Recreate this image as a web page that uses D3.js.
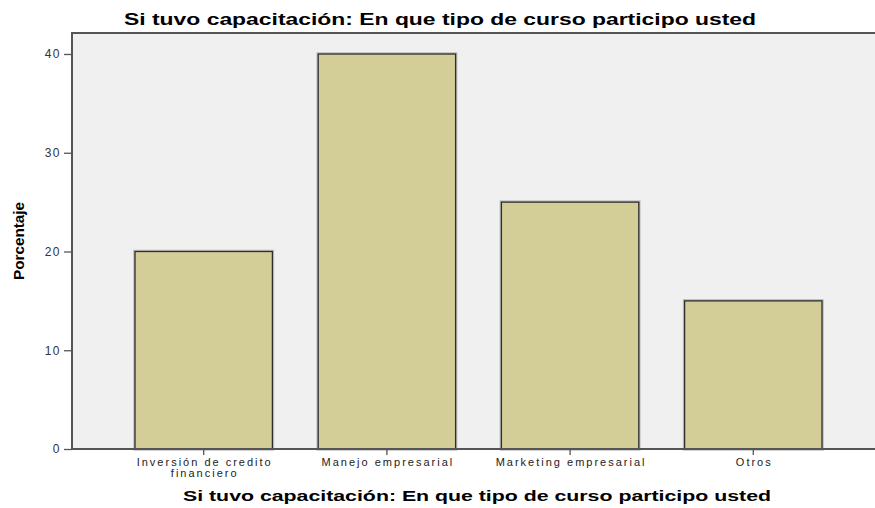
<!DOCTYPE html>
<html>
<head>
<meta charset="utf-8">
<script src="https://cdn.jsdelivr.net/npm/d3@7"></script>
<style>
  body { margin: 0; background: #fff; }
  svg { display: block; font-family: "Liberation Sans", Arial, sans-serif; }
</style>
</head>
<body>
<div id="chart"></div>
<script>
var categories = ["Inversión de credito\nfinanciero", "Manejo empresarial", "Marketing empresarial", "Otros"]
var values = [20, 40, 25, 15]
var yTicks = [0, 10, 20, 30, 40]
var titleText = "Si tuvo capacitación: En que tipo de curso participo usted"
var yLabel = "Porcentaje"

var width = 875, height = 508
var plot = { left: 72, top: 33, right: 875, bottom: 449 }

var svg = d3.select("#chart").append("svg")
    .attr("width", width)
    .attr("height", height)

var x = d3.scaleBand()
    .domain(categories)
    .range([135, 822])
    .paddingInner(0.25)
    .paddingOuter(0)

var y = d3.scaleLinear()
    .domain([0, 40])
    .range([449, 54])

// plot background
svg.append("rect")
    .attr("x", plot.left).attr("y", plot.top)
    .attr("width", plot.right - plot.left)
    .attr("height", plot.bottom - plot.top)
    .attr("fill", "#f0f0f0")

// bars (soft shadow edge, then the bar itself)
var bars = svg.append("g").selectAll("g")
    .data(values)
    .enter().append("g")

bars.append("rect")
    .attr("x", (d, i) => x(categories[i]))
    .attr("y", d => y(d))
    .attr("width", x.bandwidth())
    .attr("height", d => y(0) - y(d))
    .attr("fill", "none")
    .attr("stroke", "#999")
    .attr("stroke-width", 3.5)
    .attr("opacity", 0.6)

bars.append("rect")
    .attr("x", (d, i) => x(categories[i]))
    .attr("y", d => y(d))
    .attr("width", x.bandwidth())
    .attr("height", d => y(0) - y(d))
    .attr("fill", "#d3ce97")
    .attr("stroke", "#2e2e2e")
    .attr("stroke-width", 1.3)

// frame: top + left border, bottom axis line
svg.append("path")
    .attr("d", "M" + plot.right + "," + plot.top + "H" + plot.left + "V" + plot.bottom + "H" + plot.right)
    .attr("fill", "none")
    .attr("stroke", "#555")
    .attr("stroke-width", 2)

// y axis
var yAxis = d3.axisLeft(y)
    .tickValues(yTicks)
    .tickSize(8)
    .tickPadding(3)
var gy = svg.append("g")
    .attr("transform", "translate(" + plot.left + ",0)")
    .call(yAxis)
gy.select(".domain").remove()
gy.selectAll(".tick line").attr("stroke", "#555").attr("stroke-width", 1.3)
gy.selectAll(".tick text")
    .attr("fill", "#333")
    .style("font-size", "12px")
    .style("letter-spacing", "1.5px")
    .style("font-family", "Liberation Sans, Arial, sans-serif")

// x axis
var xAxis = d3.axisBottom(x).tickSize(6).tickFormat("")
var gx = svg.append("g")
    .attr("transform", "translate(0," + plot.bottom + ")")
    .call(xAxis)
gx.select(".domain").remove()
gx.selectAll(".tick line").attr("stroke", "#555").attr("stroke-width", 1.3)

var xl = svg.append("g").selectAll("text")
    .data(categories)
    .enter().append("text")
    .attr("x", d => x(d) + x.bandwidth() / 2 + 1)
    .attr("y", 466)
    .attr("text-anchor", "middle")
    .attr("fill", "#222")
    .style("font-size", "11px")
    .style("letter-spacing", "2px")
xl.selectAll("tspan")
    .data(d => d.split("\n"))
    .enter().append("tspan")
    .attr("x", function() { return d3.select(this.parentNode).attr("x") })
    .attr("dy", (d, i) => i == 0 ? 0 : 11)
    .text(d => d)

// titles
svg.append("text")
    .attr("x", 440)
    .attr("y", 25)
    .attr("text-anchor", "middle")
    .attr("textLength", 632)
    .attr("lengthAdjust", "spacingAndGlyphs")
    .style("font-size", "16px")
    .style("font-weight", "bold")
    .attr("fill", "#000")
    .text(titleText)

svg.append("text")
    .attr("x", 477)
    .attr("y", 501)
    .attr("text-anchor", "middle")
    .attr("textLength", 588)
    .attr("lengthAdjust", "spacingAndGlyphs")
    .style("font-size", "15px")
    .style("font-weight", "bold")
    .attr("fill", "#000")
    .text(titleText)

svg.append("text")
    .attr("transform", "translate(24,241) rotate(-90)")
    .attr("text-anchor", "middle")
    .attr("textLength", 78)
    .attr("lengthAdjust", "spacingAndGlyphs")
    .style("font-size", "14px")
    .style("font-weight", "bold")
    .style("font-family", "Liberation Sans Narrow, Arial Narrow, Liberation Sans, sans-serif")
    .attr("fill", "#000")
    .text(yLabel)
</script>
</body>
</html>
